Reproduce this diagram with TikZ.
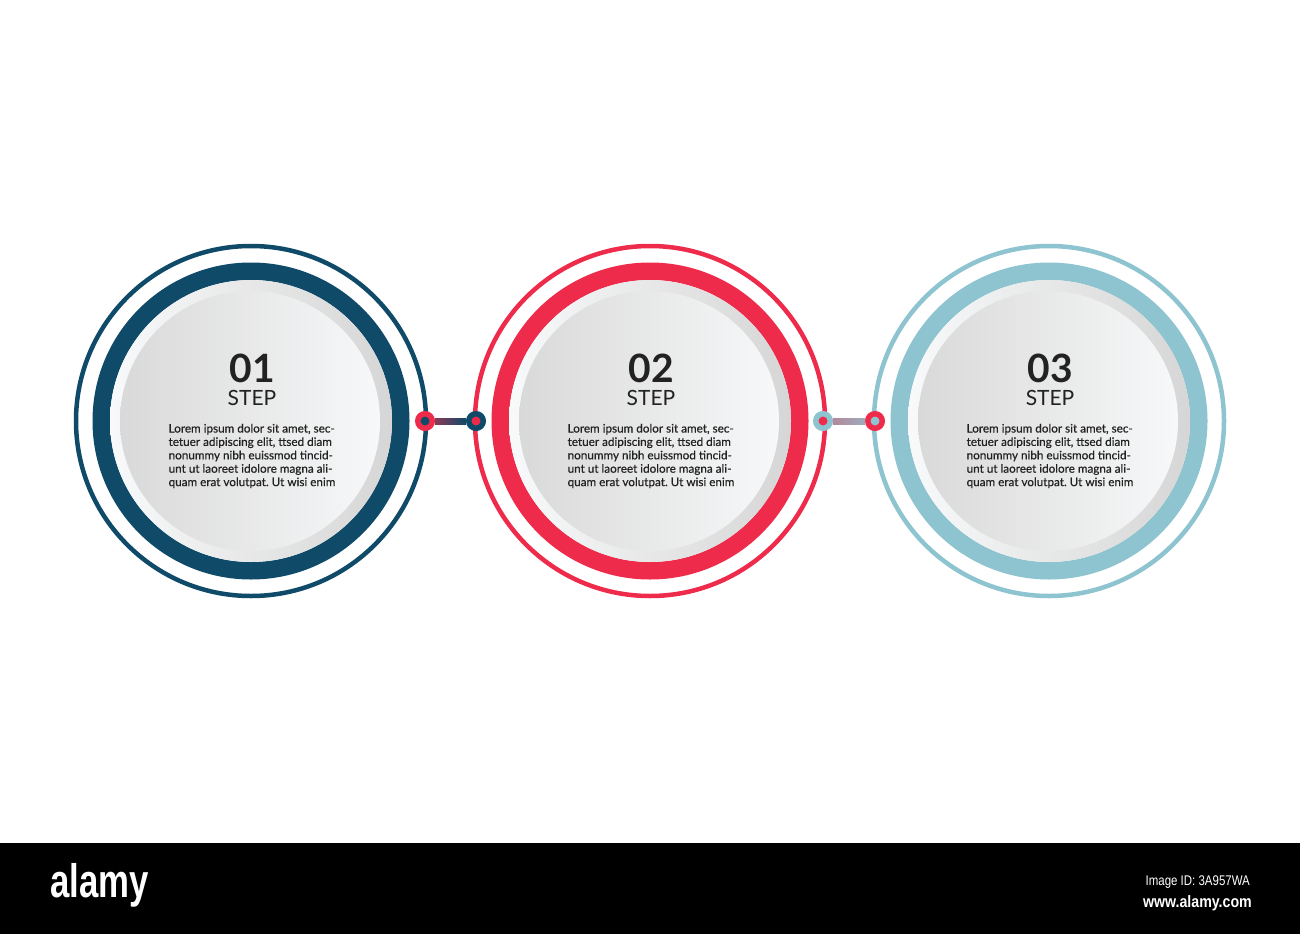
\documentclass[tikz,border=0pt]{standalone}
\usepackage{fontspec}
\setmainfont{Lato}
\newfontfamily\bodyfont{Lato}[FakeBold=0.5]
\newfontfamily\barfont{Liberation Sans}
\usetikzlibrary{calc}
\frenchspacing
\definecolor{navy}{HTML}{0F4A68}
\definecolor{crim}{HTML}{EE2B4B}
\definecolor{sky}{HTML}{8DC4D0}
\definecolor{rimL}{HTML}{F8F9FA}
\definecolor{rimR}{HTML}{D6D6D6}
\definecolor{diskL}{HTML}{D9D9D9}
\definecolor{diskR}{HTML}{F7F8F9}
\definecolor{ink}{HTML}{222222}
\tikzset{
  outerring/.style={line width=4.5pt},
  thickring/.style={line width=17.5pt},
  numtext/.style={font=\bfseries\fontsize{39}{39}\selectfont, text=ink, inner sep=0pt},
  steptext/.style={font=\fontsize{21}{21}\selectfont, text=ink, inner sep=0pt},
  bodytext/.style={font=\bodyfont\fontsize{11.7}{13.4}\selectfont, text=ink, align=left, inner sep=0pt},
  jdot/.style={circle, line width=5.5pt, minimum size=14.5pt, inner sep=0pt},
}
\begin{document}
\begin{tikzpicture}[x=1pt,y=-1pt]
\useasboundingbox (0,0) rectangle (1300,934);
\fill[white] (0,0) rectangle (1300,934);
\foreach \cx/\col/\num/\nm in {251/navy/01/a, 650/crim/02/b, 1049/sky/03/c}{
  \coordinate (ctr\nm) at (\cx,421);
  \draw[\col, outerring] (ctr\nm) circle[radius=175pt];
  \draw[\col, thickring] (ctr\nm) circle[radius=149.75pt];
  \shade[left color=rimL, right color=rimR] (ctr\nm) circle[radius=141pt];
  \shade[left color=diskL, right color=diskR] ($(ctr\nm)+(-1,0)$) circle[radius=130pt];
  \node[numtext] (num\nm) at (\cx+1,368) {\num};
  \node[steptext] (step\nm) at (\cx+1,398) {STEP};
  \node[bodytext] (txt\nm) at (\cx+1,456) {Lorem ipsum dolor sit amet, sec-\\tetuer adipiscing elit, ttsed diam\\nonummy nibh euissmod tincid-\\unt ut laoreet idolore magna ali-\\quam erat volutpat. Ut wisi enim};
}
% connectors
\node[jdot, draw=crim, fill=navy] (ja) at (425,421) {};
\node[jdot, draw=navy, fill=crim] (jb) at (476,421) {};
\shade[left color=crim!55!navy, right color=navy] ($(ja.east)+(0,-3)$) rectangle ($(jb.west)+(0,3)$);
\node[jdot, draw=sky, fill=crim] (jc) at (823,421) {};
\node[jdot, draw=crim, fill=sky] (jd) at (875,421) {};
\shade[left color=crim!40!sky, right color=sky!85!crim] ($(jc.east)+(0,-3)$) rectangle ($(jd.west)+(0,3)$);
% bottom bar
\fill[black] (0,843) rectangle (1300,934);
\node[anchor=base west, text=white, inner sep=0pt, xscale=0.74, font=\barfont\bfseries\fontsize{47}{47}\selectfont] (logo) at (50,897) {alamy};
\node[anchor=base east, text=white, inner sep=0pt, xscale=0.82, font=\barfont\fontsize{14}{14}\selectfont] (imgid) at (1250,885) {Image ID: 3A957WA};
\node[anchor=base east, text=white, inner sep=0pt, xscale=0.86, font=\barfont\bfseries\fontsize{16.5}{16.5}\selectfont] (www) at (1252,907) {www.alamy.com};
\end{tikzpicture}
\end{document}
